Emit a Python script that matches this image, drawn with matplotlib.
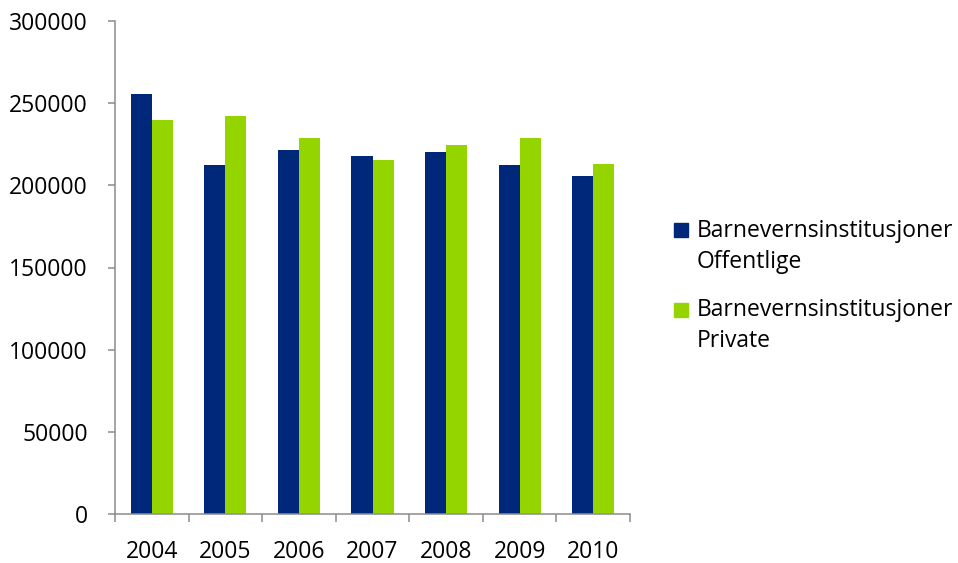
import numpy as np
import matplotlib.pyplot as plt
from matplotlib.patches import Rectangle

plt.rcParams['font.family'] = ['Open Sans', 'DejaVu Sans']

years = ['2004', '2005', '2006', '2007', '2008', '2009', '2010']
offentlige = [255300, 212600, 221200, 218100, 220000, 212200, 205500]
private = [240000, 241900, 229100, 215700, 224800, 229100, 212800]
series_labels = ['Barnevernsinstitusjoner\nOffentlige', 'Barnevernsinstitusjoner\nPrivate']
colors = ['#00287A', '#94D500']

axis_grey = '#8C8C8C'
fs = 16.5

fig = plt.figure(figsize=(9.58, 5.63), dpi=100)
ax = fig.add_axes([115 / 958, 49 / 563, 515 / 958, 493 / 563])

x = np.arange(len(years))
w = 0.2857
ax.bar(x - w / 2, offentlige, w, color=colors[0], linewidth=0)
ax.bar(x + w / 2, private, w, color=colors[1], linewidth=0)

ax.set_xlim(-0.5, len(years) - 0.5)
ax.set_ylim(0, 300000)
ax.set_yticks(np.arange(0, 300001, 50000))
ax.set_yticklabels([str(v) for v in range(0, 300001, 50000)], fontsize=fs)

# category boundaries carry the tick marks, labels sit at the centres
ax.set_xticks(np.arange(-0.5, len(years), 1.0))
ax.set_xticklabels([])
ax.set_xticks(x, minor=True)
ax.set_xticklabels(years, minor=True, fontsize=fs)
ax.tick_params(axis='x', which='major', length=6, width=1.1, color=axis_grey, direction='out')
ax.tick_params(axis='x', which='minor', length=0, pad=19)
ax.tick_params(axis='y', length=5, width=1.1, color=axis_grey, direction='out', pad=14.5)

for side in ('top', 'right'):
    ax.spines[side].set_visible(False)
for side in ('left', 'bottom'):
    ax.spines[side].set_color(axis_grey)
    ax.spines[side].set_linewidth(1.1)

# legend drawn by hand so the swatch lines up with the first text line
H = 563
entries = [(223, 231), (303, 310)]
for (sq_top, text_y), label, col in zip(entries, series_labels, colors):
    fig.patches.append(Rectangle((674 / 958, (H - sq_top - 14) / H), 14 / 958, 14 / H,
                                 transform=fig.transFigure, color=col))
    for i, line in enumerate(label.split('\n')):
        fig.text(697 / 958, (H - text_y - 31 * i) / H, line, fontsize=fs,
                 va='center', ha='left')

fig.savefig('out.png', dpi=100)
